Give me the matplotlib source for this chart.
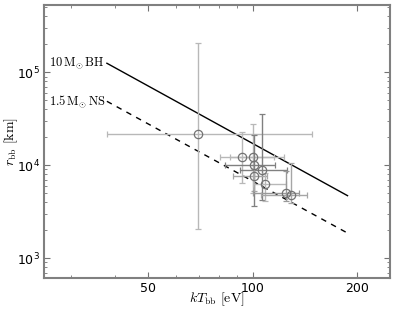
import numpy as np
import matplotlib
matplotlib.use('Agg')
import matplotlib.pyplot as plt
from matplotlib.ticker import FixedLocator, FixedFormatter, NullFormatter

# blackbody temperature [eV] and radius [km] with error ranges
kT    = [69.5, 93.1, 100.0, 101.3, 106.3, 100.8, 108.4, 124.9, 129.3]
kT_lo = [38.1, 80.4, 85.9, 83.1, 91.8, 87.6, 100.0, 100.0, 106.1]
kT_hi = [148.6, 115.6, 123.5, 116.4, 126.0, 110.4, 125.0, 136.3, 143.7]
r     = [2.15e4, 1.22e4, 1.22e4, 9930, 8900, 7620, 6320, 5000, 4720]
r_lo  = [2050, 6400, 5000, 3620, 4210, 5250, 4100, 4100, 3935]
r_hi  = [2.05e5, 2.27e4, 2.76e4, 2.1e4, 3.53e4, 9060, 8200, 8620, 10580]
bar_col = ['0.72', '0.72', '0.72', '0.5', '0.5', '0.65', '0.72', '0.6', '0.65']

# Eddington-limit lines
kT_line = [38, 188]
r_bh = [1.25e5, 4.7e3]
r_ns = [4.87e4, 1.86e3]

fig = plt.figure(figsize=(3.99, 3.10), dpi=100)
ax = fig.add_axes([0.110, 0.103, 0.867, 0.881])

ax.plot(kT_line, r_bh, 'k-', lw=1.0)
ax.plot(kT_line, r_ns, 'k--', lw=1.0, dashes=(4, 4))

for i in range(len(kT)):
	xe = [[kT[i] - kT_lo[i]], [kT_hi[i] - kT[i]]]
	ye = [[r[i] - r_lo[i]], [r_hi[i] - r[i]]]
	ax.errorbar([kT[i]], [r[i]], xerr=xe, yerr=ye, fmt='o', mfc='none',
		mec='0.45', ms=6, mew=0.9, ecolor=bar_col[i], elinewidth=1.0,
		capsize=2, capthick=0.8)

ax.set_xscale('log')
ax.set_yscale('log')
ax.set_xlim(25, 249)
ax.set_ylim(610, 5.3e5)

ax.xaxis.set_major_locator(FixedLocator([50, 100, 200]))
ax.xaxis.set_major_formatter(FixedFormatter(['50', '100', '200']))
ax.xaxis.set_minor_formatter(NullFormatter())

ax.tick_params(which='both', direction='in', top=True, right=True,
	labelsize=9, color='0.45')
ax.tick_params(which='major', length=4, pad=3)
ax.tick_params(which='minor', length=2)
for s in ax.spines.values():
	s.set_color('0.5')
	s.set_linewidth(1.5)

ax.text(25.9, 1.25e5, r'$\rm 10\,M_{\odot}\,BH$', math_fontfamily='cm',
	fontsize=9, ha='left', va='center')
ax.text(25.9, 4.87e4, r'$\rm 1.5\,M_{\odot}\,NS$', math_fontfamily='cm',
	fontsize=9, ha='left', va='center')

ax.set_xlabel(r'$kT_{\rm bb}\ [\rm eV]$', math_fontfamily='cm', fontsize=10)
ax.set_ylabel(r'$r_{\rm bb}\ [\rm km]$', math_fontfamily='cm', fontsize=10)
ax.xaxis.set_label_coords(0.5, -0.047)
ax.yaxis.set_label_coords(-0.069, 0.5)

fig.savefig('out.png', dpi=100)
